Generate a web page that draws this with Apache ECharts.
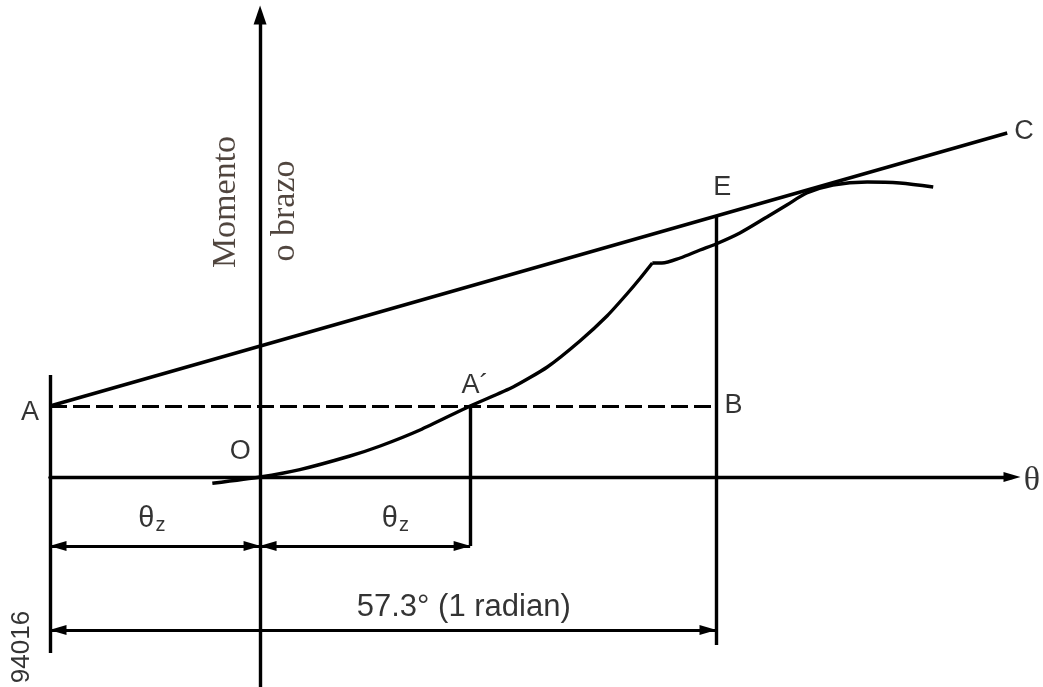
<!DOCTYPE html>
<html>
<head>
<meta charset="utf-8">
<title>Momento o brazo</title>
<script src="https://cdn.jsdelivr.net/npm/echarts@6/dist/echarts.min.js"></script>
<style>
html, body { margin: 0; padding: 0; background: #fff; }
#chart { width: 1043px; height: 687px; }
</style>
</head>
<body>
<div id="chart"></div>
<script>
// x: heel angle in degrees, y: arm in drawing units
const thetaZ = 26.4
const radian = 57.3
const levelA = 71
const tangentEnd = [93.9, 344]
const aLineSpan = [102, -176]
const bLineSpan = [261, -168]
const dimRows = [-69, -153]

const curveLowX = [-6.0, 0, 5.0, 11.3, 15.1, 20.1, 26.4, 31.8, 36.1, 40.2, 43.6, 46.1, 47.8, 49.3]
const curveLowY = [-6.3, 0, 7.4, 21, 31, 47, 71, 90, 110, 136, 161, 183, 199, 214]
const curveHighX = [49.3, 50.5, 52.8, 55.3, 57.3, 60.3, 63.7, 66.2, 68.7, 72.0, 76.3, 80.4, 84.6]
const curveHighY = [214, 214, 219, 227, 233, 244, 260, 272, 284, 292, 295, 294, 290]

// [x, y, text]
const letterLabels = [
	[-28.9, 64, 'A'],
	[27.0, 91, 'A´'],
	[59.5, 71, 'B'],
	[-2.5, 25, 'O'],
	[58.1, 289, 'E'],
	[96.0, 345, 'C'],
]

const zip = (xs, ys) => xs.map((x, i) => [x, ys[i]])
const seg = (a, b) => [{ coord: a }, { coord: b }]
// dimension line with a filled arrow head at each end, tips on the end points
const arrowEnd = c => ({ coord: c, symbol: 'triangle', symbolSize: [10, 17], symbolOffset: [0, 8] })
const dimSeg = (a, b) => [arrowEnd(a), arrowEnd(b)]

const sans = '"Liberation Sans", Arial, sans-serif'
const serif = '"Liberation Serif", "Times New Roman", serif'
const ink = '#000'

const textPoint = (pt, text, label) => ({
	value: pt,
	label: Object.assign({ show: true, formatter: text, position: 'inside', align: 'center', verticalAlign: 'middle' }, label),
})
const thetaRich = {
	t: { fontFamily: sans, fontSize: 29, color: ink },
	s: { fontFamily: sans, fontSize: 20, color: ink, padding: [12, 0, 0, 1] },
}

const chart = echarts.init(document.getElementById('chart'))

const option = {
	animation: false,
	backgroundColor: '#fff',
	grid: { left: 50, right: 31, top: 15, bottom: 0, containLabel: false },
	xAxis: {
		type: 'value',
		min: -thetaZ,
		max: 94.5,
		axisLine: { onZero: true, symbol: ['none', 'triangle'], symbolSize: [10, 17], lineStyle: { color: ink, width: 3.4 } },
		axisTick: { show: false },
		axisLabel: { show: false },
		splitLine: { show: false },
	},
	yAxis: {
		type: 'value',
		min: -210,
		max: 462,
		axisLine: { onZero: true, symbol: ['none', 'triangle'], symbolSize: [13, 19], lineStyle: { color: ink, width: 3.4 } },
		axisTick: { show: false },
		axisLabel: { show: false },
		splitLine: { show: false },
	},
	series: [
		{
			name: 'curva baja',
			type: 'line',
			data: zip(curveLowX, curveLowY),
			smooth: 0.2,
			symbol: 'none',
			lineStyle: { color: ink, width: 3.4 },
			silent: true,
		},
		{
			name: 'curva alta',
			type: 'line',
			data: zip(curveHighX, curveHighY),
			smooth: 0.3,
			symbol: 'none',
			lineStyle: { color: ink, width: 3.4 },
			silent: true,
		},
		{
			name: 'trazos',
			type: 'line',
			data: [],
			silent: true,
			markLine: {
				silent: true,
				symbol: ['none', 'none'],
				label: { show: false },
				lineStyle: { color: ink, width: 3.4, type: 'solid' },
				emphasis: { disabled: true },
				data: [
					seg([-thetaZ, levelA], tangentEnd),
					seg([-thetaZ, aLineSpan[0]], [-thetaZ, aLineSpan[1]]),
					seg([thetaZ, levelA], [thetaZ, dimRows[0]]),
					seg([radian, bLineSpan[0]], [radian, bLineSpan[1]]),
				],
			},
		},
		{
			name: 'nivel',
			type: 'line',
			data: [],
			silent: true,
			markLine: {
				silent: true,
				symbol: ['none', 'none'],
				label: { show: false },
				lineStyle: { color: ink, width: 3, type: [17, 6] },
				emphasis: { disabled: true },
				data: [seg([-thetaZ, levelA], [radian, levelA])],
			},
		},
		{
			name: 'cotas',
			type: 'line',
			data: [],
			silent: true,
			markLine: {
				silent: true,
				symbol: ['triangle', 'triangle'],
				label: { show: false },
				lineStyle: { color: ink, width: 3, type: 'solid' },
				itemStyle: { color: ink },
				emphasis: { disabled: true },
				data: [
					dimSeg([-thetaZ, dimRows[0]], [0, dimRows[0]]),
					dimSeg([0, dimRows[0]], [thetaZ, dimRows[0]]),
					dimSeg([-thetaZ, dimRows[1]], [radian, dimRows[1]]),
				],
			},
		},
		{
			name: 'textos',
			type: 'scatter',
			symbolSize: 1,
			itemStyle: { color: 'transparent' },
			clip: false,
			silent: true,
			z: 10,
			label: { color: ink },
			data: [
				...letterLabels.map(d => textPoint([d[0], d[1]], d[2], { fontFamily: sans, fontSize: 27 })),
				textPoint([97.0, -4], 'θ', { fontFamily: serif, fontSize: 34 }),
				textPoint([-13.6, -42], '{t|θ}{s|z}', { rich: thetaRich }),
				textPoint([17.0, -42], '{t|θ}{s|z}', { rich: thetaRich }),
				textPoint([25.6, -130], '57.3° (1 radian)', { fontFamily: sans, fontSize: 31 }),
				textPoint([-29.9, -170], '94016', { fontFamily: sans, fontSize: 26, rotate: 90 }),
				textPoint([-4.3, 275], 'Momento', { fontFamily: serif, fontSize: 34, rotate: 90, color: '#24160e' }),
				textPoint([3.1, 266], 'o brazo', { fontFamily: serif, fontSize: 34, rotate: 90, color: '#24160e' }),
			],
		},
	],
}

chart.setOption(option)
window.addEventListener('resize', () => chart.resize())
</script>
</body>
</html>
